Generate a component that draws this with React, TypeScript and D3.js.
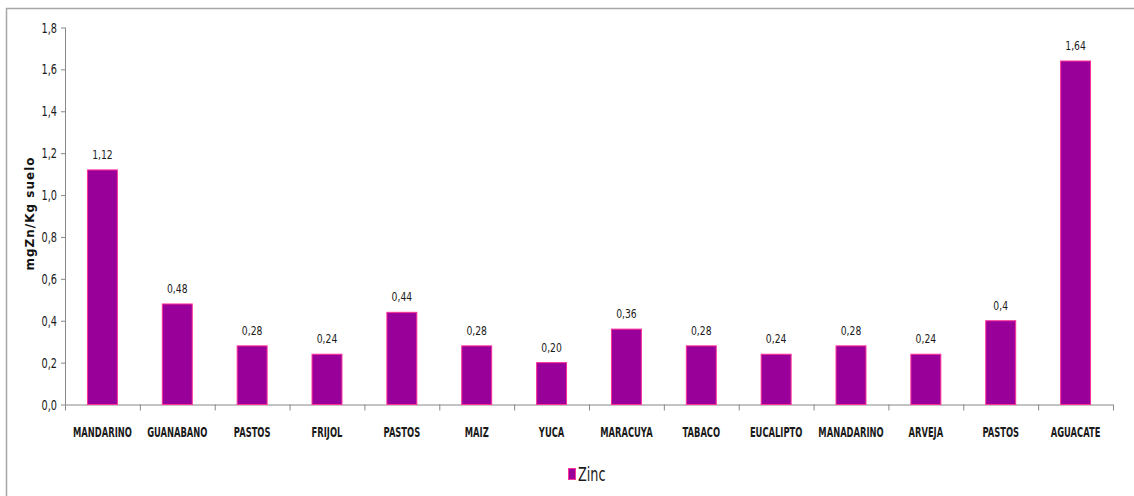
import React from "react";
import * as d3 from "d3";

const categories = ["MANDARINO","GUANABANO","PASTOS","FRIJOL","PASTOS","MAIZ","YUCA","MARACUYA","TABACO","EUCALIPTO","MANADARINO","ARVEJA","PASTOS","AGUACATE"];
const zincValues = [1.12,0.48,0.28,0.24,0.44,0.28,0.20,0.36,0.28,0.24,0.28,0.24,0.4,1.64];
const valueLabels = ["1,12","0,48","0,28","0,24","0,44","0,28","0,20","0,36","0,28","0,24","0,28","0,24","0,4","1,64"];
const yTicks = [0,0.2,0.4,0.6,0.8,1.0,1.2,1.4,1.6,1.8];
const seriesName = "Zinc";
const yTitle = "mgZn/Kg  suelo";

const FONT = "'DejaVu Sans', sans-serif";

function NText(props: { x: number; y: number; sx?: number; anchor?: string; size: number; weight?: string; children: React.ReactNode; ls?: number }) {
  const { x, y, sx = 0.8, anchor = "middle", size, weight = "normal", children, ls = 0 } = props;
  return (
    <text transform={`translate(${x},${y}) scale(${sx},1)`} textAnchor={anchor} fontFamily={FONT} fontSize={size} fontWeight={weight} fill="#1a1a1a" letterSpacing={ls}>
      {children}
    </text>
  );
}

export default function App() {
  const W = 1134, H = 496;
  const x0 = 65, x1 = 1113, yTop = 27.5, yBot = 404.5;
  const x = d3.scaleBand<number>().domain(d3.range(categories.length)).range([x0, x1]).paddingInner(0.6).paddingOuter(0.3);
  const xb = d3.scaleBand<number>().domain(d3.range(categories.length)).range([x0, x1]);
  const y = d3.scaleLinear().domain([0, 1.8]).range([yBot, yTop]);
  const fmt = (v: number) => v.toFixed(1).replace(".", ",");
  return (
    <svg width={W} height={H} style={{ position: "absolute", left: 0, top: 0, background: "#fff" }}>
      <rect x={0} y={0} width={W} height={H} fill="#fff" />
      <line x1={6} y1={8.5} x2={W} y2={8.5} stroke="#a6a6a6" strokeWidth={1.5} />
      <line x1={6.5} y1={8} x2={6.5} y2={H} stroke="#a6a6a6" strokeWidth={1.5} />
      {/* y axis */}
      <line x1={x0 + 0.5} y1={yTop} x2={x0 + 0.5} y2={yBot} stroke="#888" />
      {yTicks.map((t, i) => (
        <g key={i}>
          <line x1={x0 - 4} x2={x0} y1={y(t) + 0.5} y2={y(t) + 0.5} stroke="#888" />
          <NText x={x0 - 8} y={y(t) + 5} anchor="end" size={13.5} sx={0.72}>{fmt(t)}</NText>
        </g>
      ))}
      <text transform={`translate(34,${213.5}) rotate(-90)`} textAnchor="middle" fontFamily={FONT} fontSize={12} fontWeight="bold" fill="#111" letterSpacing={1}>{yTitle}</text>
      {/* x axis */}
      <line x1={x0} y1={yBot + 0.5} x2={x1} y2={yBot + 0.5} stroke="#888" />
      {d3.range(categories.length + 1).map((i) => {
        const px = i < categories.length ? (xb(i) as number) : x1;
        return <line key={i} x1={px + 0.5} x2={px + 0.5} y1={yBot} y2={yBot + 6} stroke="#888" />;
      })}
      {zincValues.map((v, i) => {
        const bx = x(i) as number;
        const bw = x.bandwidth();
        return (
          <g key={i}>
            <rect x={bx} y={y(v)} width={bw} height={yBot - y(v)} fill="#990099" stroke="#ff3399" strokeWidth={1} />
            <NText x={bx + bw / 2} y={y(v) - 11} size={12.5} sx={0.74}>{valueLabels[i]}</NText>
            <NText x={(xb(i) as number) + xb.bandwidth() / 2} y={437} size={13.5} sx={0.62} weight="bold">{categories[i]}</NText>
          </g>
        );
      })}
      {/* legend */}
      <rect x={568.5} y={468.5} width={7} height={11} fill="#990099" stroke="#ff3399" />
      <NText x={578} y={481} anchor="start" size={20} sx={0.64}>{seriesName}</NText>
    </svg>
  );
}
